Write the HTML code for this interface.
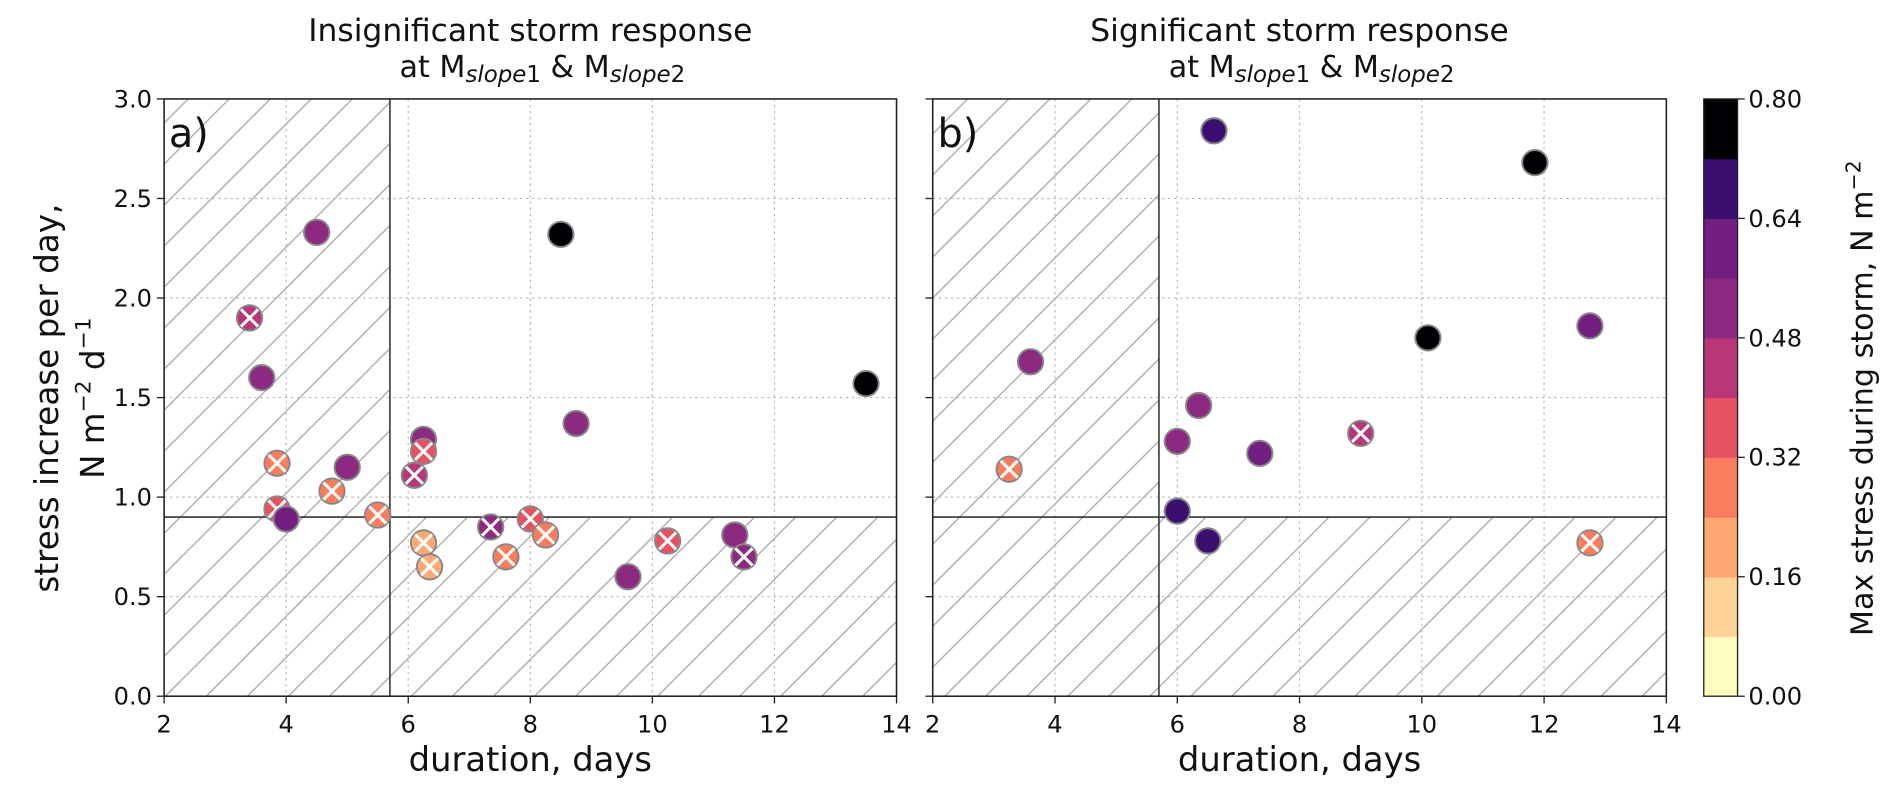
<!DOCTYPE html>
<html><head><meta charset="utf-8">
<style>
body{margin:0;background:#fff;overflow:hidden;}
svg{display:block;}
svg text{font-family:"DejaVu Sans","Liberation Sans",sans-serif;fill:#111;}
</style></head>
<body>
<svg id="chart" width="1892" height="796" viewBox="0 0 1568 659.7" preserveAspectRatio="none" xmlns="http://www.w3.org/2000/svg">
<defs>
<pattern id="hatch" patternUnits="userSpaceOnUse" width="34" height="34">
<line x1="0" y1="34" x2="34" y2="0" stroke="#aaa" stroke-width="1.1"/>
<line x1="-4" y1="4" x2="4" y2="-4" stroke="#aaa" stroke-width="1.1"/>
<line x1="30" y1="38" x2="38" y2="30" stroke="#aaa" stroke-width="1.1"/>
</pattern>
</defs>
<g id="panels"></g>
<g id="cbar"></g>
</svg>
<script>
// Data
const xTicks=[2,4,6,8,10,12,14];
const yTicks=[0.0,0.5,1.0,1.5,2.0,2.5,3.0];
const cbTicks=[0.00,0.16,0.32,0.48,0.64,0.80];
const cbColors=["#fcfdbf","#fed395","#fea873","#f97c5d","#e75263","#b73779","#8c2981","#721f81","#3b0f70","#000004"];
const leftX=[3.4,3.6,4.5,3.85,3.85,4.0,4.75,5.0,5.5,6.1,6.25,6.25,6.25,6.35,7.35,7.6,8.0,8.25,8.5,8.75,9.6,10.25,11.35,11.5,13.5];
const leftY=[1.9,1.6,2.33,1.17,0.94,0.89,1.03,1.15,0.91,1.11,1.29,1.23,0.77,0.65,0.85,0.70,0.89,0.81,2.32,1.37,0.60,0.78,0.81,0.70,1.57];
const leftC=[0.44,0.55,0.55,0.28,0.35,0.6,0.28,0.55,0.3,0.45,0.55,0.35,0.2,0.2,0.55,0.28,0.35,0.28,0.8,0.55,0.55,0.35,0.55,0.55,0.8];
const leftCross=[1,0,0,1,1,0,1,0,1,1,0,1,1,1,1,1,1,1,0,0,0,1,0,1,0];
const rightX=[3.25,3.6,6.6,11.85,12.75,10.1,6.0,6.35,7.35,9.0,6.0,6.5,12.75];
const rightY=[1.14,1.68,2.84,2.68,1.86,1.8,1.28,1.46,1.22,1.32,0.93,0.78,0.77];
const rightC=[0.28,0.52,0.68,0.8,0.6,0.8,0.55,0.48,0.62,0.45,0.66,0.64,0.28];
const rightCross=[1,0,0,0,0,0,0,0,0,1,0,0,1];
const xThresh=5.7, yThresh=0.9;

const NS="http://www.w3.org/2000/svg";
function mk(tag,attrs,parent){const e=document.createElementNS(NS,tag);for(const k in attrs)e.setAttribute(k,attrs[k]);parent.appendChild(e);return e;}
function colorFor(v){let i=Math.floor(v/0.08);if(i>9)i=9;if(i<0)i=0;return cbColors[i];}
const axTop=82,axBot=577;
function yPix(v){return axBot-(v/3)*(axBot-axTop);}

function panel(x0,x1,label,title,xs,ys,cs,cr,showY,name){
  const g=mk('g',{},document.getElementById('panels'));
  
  
  const xp=v=>x0+(v-2)/12*(x1-x0);
  const h1=mk('rect',{x:x0,y:axTop,width:xp(xThresh)-x0,height:axBot-axTop,fill:'url(#hatch)'},g);
  
  
  const h2=mk('rect',{x:xp(xThresh),y:yPix(yThresh),width:x1-xp(xThresh),height:axBot-yPix(yThresh),fill:'url(#hatch)'},g);
  
  
  xTicks.forEach(t=>{if(t>2&&t<14){const l=mk('line',{x1:xp(t),x2:xp(t),y1:axTop,y2:axBot,stroke:'#bbb','stroke-dasharray':'2,3','stroke-width':1},g);
    
    }});
  yTicks.forEach(t=>{if(t>0&&t<3){const l=mk('line',{x1:x0,x2:x1,y1:yPix(t),y2:yPix(t),stroke:'#bbb','stroke-dasharray':'2,3','stroke-width':1},g);
    
    }});
  const v=mk('line',{x1:xp(xThresh),x2:xp(xThresh),y1:axTop,y2:axBot,stroke:'#333','stroke-width':1.3},g);
  
  
  const hl=mk('line',{x1:x0,x2:x1,y1:yPix(yThresh),y2:yPix(yThresh),stroke:'#333','stroke-width':1.3},g);
  
  
  for(let i=0;i<xs.length;i++){
    const cx=xp(xs[i]),cy=yPix(ys[i]);
    const c=mk('circle',{cx:cx,cy:cy,r:10.5,fill:colorFor(cs[i]),stroke:'#888','stroke-width':1.6},g);
    
    
    if(cr[i]){
      const p=mk('path',{d:`M${cx-7},${cy-7}L${cx+7},${cy+7}M${cx-7},${cy+7}L${cx+7},${cy-7}`,stroke:'#fff','stroke-width':2.5},g);
      
      
    }
  }
  const f=mk('rect',{x:x0,y:axTop,width:x1-x0,height:axBot-axTop,fill:'none',stroke:'#222','stroke-width':1.3},g);
  
  
  xTicks.forEach(t=>{
    mk('line',{x1:xp(t),x2:xp(t),y1:axBot,y2:axBot+6,stroke:'#222','stroke-width':1.1},g);
    const tx=mk('text',{x:xp(t),y:axBot+30,'text-anchor':'middle','font-size':20},g);
    tx.textContent=t;
    
    
  });
  yTicks.forEach(t=>{
    mk('line',{x1:x0-6,x2:x0,y1:yPix(t),y2:yPix(t),stroke:'#222','stroke-width':1.1},g);
    if(showY){const ty=mk('text',{x:x0-10,y:yPix(t)+7,'text-anchor':'end','font-size':20},g);
    ty.textContent=t.toFixed(1);
    
    }
  });
  const lb=mk('text',{x:x0+4,y:axTop+40,'font-size':33},g);lb.textContent=label;
  
  
  const xl=mk('text',{x:(x0+x1)/2,y:axBot+62,'text-anchor':'middle','font-size':28},g);xl.textContent='duration, days';
  
  
  const t1=mk('text',{x:(x0+x1)/2,y:34,'text-anchor':'middle','font-size':26},g);t1.textContent=title;
  
  
  const t2=mk('text',{x:(x0+x1)/2+10,y:64,'text-anchor':'middle','font-size':25},g);
  t2.innerHTML='at M<tspan font-style="italic" font-size="19" dy="4">slope</tspan><tspan font-size="19">1</tspan><tspan dy="-4"> &amp; M</tspan><tspan font-style="italic" font-size="19" dy="4">slope</tspan><tspan font-size="19">2</tspan>';
  
  
}
panel(136,743,'a)','Insignificant storm response',leftX,leftY,leftC,leftCross,true,'panel-a');
panel(773,1381,'b)','Significant storm response',rightX,rightY,rightC,rightCross,false,'panel-b');

const root=document.getElementById('panels');
const yl=mk('text',{x:0,y:0,'text-anchor':'middle','font-size':27,transform:'translate(48,330) rotate(-90)'},root);
yl.textContent='stress increase per day,';


const yl2=mk('text',{x:0,y:0,'text-anchor':'middle','font-size':27,transform:'translate(86,330) rotate(-90)'},root);
yl2.innerHTML='N m<tspan font-size="18" dy="-11">−2</tspan><tspan dy="11"> d</tspan><tspan font-size="18" dy="-11">−1</tspan>';



const cb=document.getElementById('cbar');


const cx0=1412,cw=28,seg=(axBot-axTop)/cbColors.length;
cbColors.forEach((c,i)=>{const r=mk('rect',{x:cx0,y:axBot-(i+1)*seg,width:cw,height:seg+0.5,fill:c},cb);
  
  });
mk('rect',{x:cx0,y:axTop,width:cw,height:axBot-axTop,fill:'none',stroke:'#222','stroke-width':1.1},cb);
cbTicks.forEach(t=>{const y=axBot-t/0.8*(axBot-axTop);
  mk('line',{x1:cx0+cw,x2:cx0+cw+6,y1:y,y2:y,stroke:'#222','stroke-width':1.1},cb);
  const tx=mk('text',{x:cx0+cw+9,y:y+7,'font-size':20},cb);tx.textContent=t.toFixed(2);
  
  });
const cl=mk('text',{x:0,y:0,'text-anchor':'middle','font-size':25,transform:'translate(1552,330) rotate(-90)'},cb);
cl.innerHTML='Max stress during storm, N m<tspan font-size="17" dy="-10">−2</tspan>';


</script>
</body></html>
